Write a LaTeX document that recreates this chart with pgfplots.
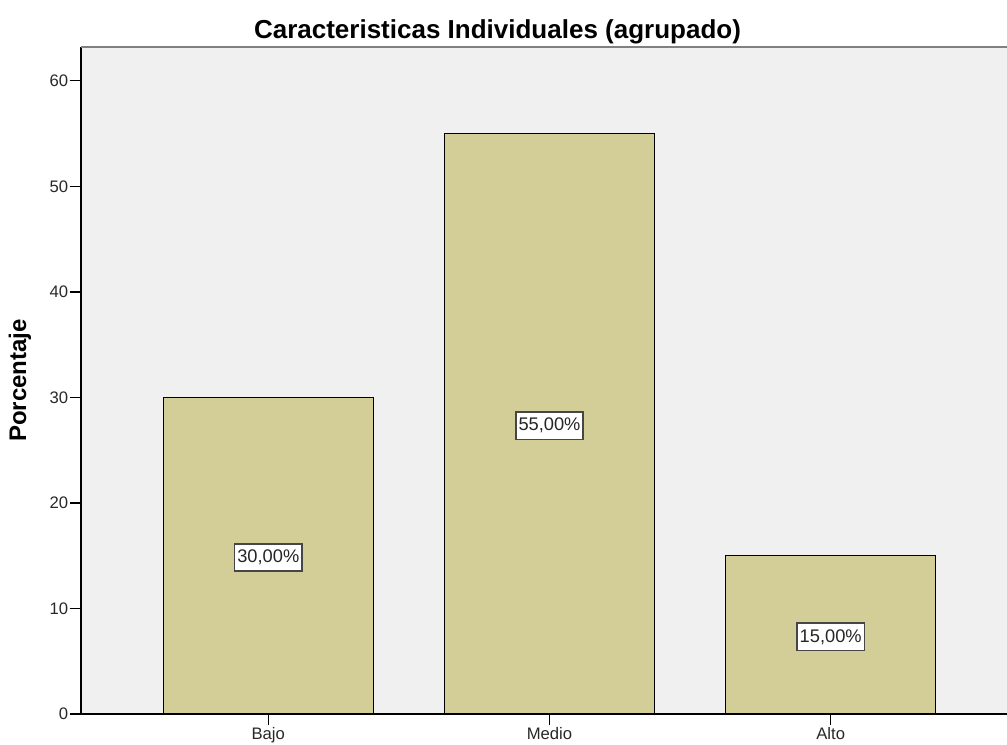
\documentclass[border=0pt]{standalone}
\usepackage{pgfplots}
\pgfplotsset{compat=1.18}
\usepackage{pgfplotstable}
\usepackage{fontspec}
\setmainfont{Liberation Sans}

\definecolor{panelbg}{RGB}{240,240,240}
\definecolor{barfill}{RGB}{211,206,151}
\definecolor{framegray}{RGB}{128,128,128}
\definecolor{boxgray}{RGB}{70,70,70}
\definecolor{ticktext}{RGB}{40,40,40}

% percentage per group
\pgfplotstableread{
x v
0 30
1 55
2 15
}\datatbl

\begin{document}
\begin{tikzpicture}
\path[use as bounding box] (-60.75pt,-23.25pt) rectangle (694.5pt,535.5pt);
\begin{axis}[
  at={(0,0)}, anchor=south west,
  scale only axis, width=694.5pt, height=500.25pt,
  xmin=-0.666, xmax=2.627, ymin=0, ymax=63.2,
  axis background/.style={fill=panelbg},
  axis lines*=left,
  axis line style={-, black, line width=1pt},
  xtick={0,1,2}, xticklabels={Bajo,Medio,Alto},
  ytick={0,10,...,60},
  tick align=outside, major tick length=8.5pt,
  tick style={black, line width=1pt},
  /pgf/number format/assume math mode=true,
  ticklabel style={font=\fontsize{12.5}{15}\selectfont, text=ticktext},
  yticklabel style={inner sep=1pt},
  xticklabel style={inner sep=1pt},
  title={Caracteristicas Individuales (agrupado)},
  title style={at={(axis description cs:0,1)}, anchor=center,
    xshift=312.4pt, yshift=5.5pt,
    font=\bfseries\fontsize{19.5}{22}\selectfont},
  ylabel={Porcentaje},
  every axis y label/.style={at={([xshift=-45.75pt]axis description cs:0,0.5)},
    anchor=center, rotate=90,
    font=\bfseries\fontsize{18}{21}\selectfont},
  clip=false,
]
\draw[framegray, line width=1.5pt] (rel axis cs:0,1) -- (rel axis cs:1,1);
\addplot[ybar, bar width=0.747, fill=barfill, draw=black, line width=0.9pt]
  table[x=x, y=v] {\datatbl};
\addplot[draw=none, mark=none, point meta=explicit,
  nodes near coords={\pgfmathprintnumber[fixed, fixed zerofill, precision=2, use comma]{\pgfplotspointmeta}\%},
  nodes near coords style={anchor=center, fill=white, draw=boxgray,
    line width=1.2pt, inner xsep=2pt, inner ysep=4.5pt, text=black!85,
    yshift=-1.5pt, font=\fontsize{13.7}{16}\selectfont}]
  table[x=x, y expr=\thisrow{v}/2, meta=v] {\datatbl};
\end{axis}
\end{tikzpicture}
\end{document}
